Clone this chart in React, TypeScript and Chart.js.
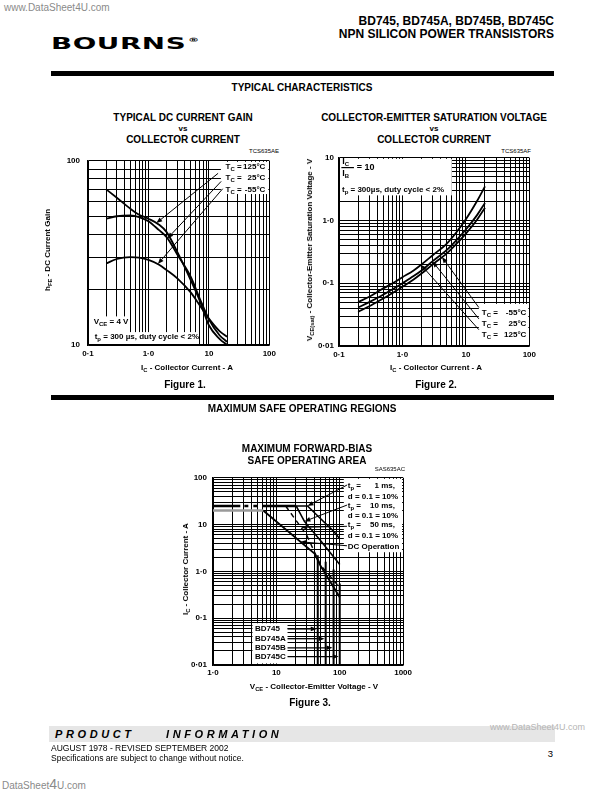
import React, { useEffect, useRef } from 'react';
import { Chart, registerables } from 'chart.js';

Chart.register(...registerables);

const F = '"Liberation Sans", Arial, Helvetica, sans-serif';

// ---------- Figure 1 : typical DC current gain vs collector current ----------
const fig1Current = [0.2, 0.3, 0.5, 0.7, 1, 1.5, 2, 3, 5, 7, 10, 15, 20];
const fig1Gain125 = [70, 63, 55, 51, 48.5, 45, 41, 32, 22.5, 17.5, 12.8, 10.8, 10.0];
const fig1Gain25 = [48.5, 50, 50.5, 49.5, 47, 42, 38.5, 31, 23.5, 18, 13.8, 11.3, 10.4];
const fig1GainM55 = [27.7, 29.3, 30, 29.8, 29, 27.3, 25.5, 23, 19.3, 16.5, 13.9, 11.9, 11.1];
const fig1TempLabels = ['125°C', '25°C', '-55°C'];
const fig1XTickValues = [0.1, 1, 10, 100];
const fig1XTickLabels = ['0·1', '1·0', '10', '100'];
const fig1YTickValues = [10, 100];
const fig1YTickLabels = ['10', '100'];

// ---------- Figure 2 : VCE(sat) vs collector current ----------
const fig2Current = [0.2, 0.3, 0.45, 0.7, 1, 1.5, 2, 3, 5, 7, 10, 15, 20];
const fig2Vsat125 = [0.05, 0.061, 0.078, 0.1, 0.125, 0.16, 0.2, 0.28, 0.43, 0.64, 1.05, 2.05, 3.5];
const fig2Vsat25 = [0.041, 0.05, 0.062, 0.08, 0.1, 0.13, 0.16, 0.225, 0.34, 0.48, 0.72, 1.22, 1.91];
const fig2VsatM55 = [0.035, 0.043, 0.054, 0.07, 0.088, 0.115, 0.143, 0.2, 0.3, 0.42, 0.62, 1.03, 1.6];
const fig2TempLabels = ['-55°C', '25°C', '125°C'];
const fig2XTickValues = [0.1, 1, 10, 100];
const fig2XTickLabels = ['0·1', '1·0', '10', '100'];
const fig2YTickValues = [0.01, 0.1, 1, 10];
const fig2YTickLabels = ['0·01', '0·1', '1·0', '10'];

// ---------- Figure 3 : maximum forward-bias safe operating area ----------
const fig3IcmV = [1, 2.7, 6.15, 20.5];
const fig3IcmA = [25, 25, 25, 25];
const fig3Tp1msV = [20.5, 31, 80, 100];
const fig3Tp1msA = [25, 25, 7.2, 5];
const fig3Tp10msV = [20.5, 27.7, 50, 100];
const fig3Tp10msA = [25, 11.7, 4.5, 1.4];
const fig3Tp50msV = [14, 30, 50, 100];
const fig3Tp50msA = [25, 6, 1.36, 0.45];
const fig3DcFlatV = [1, 6.2];
const fig3DcFlatA = [20, 20];
const fig3DcV = [6.2, 40, 50, 100];
const fig3DcA = [20, 2.4, 1.3, 0.28];
const fig3Devices = ['BD745', 'BD745A', 'BD745B', 'BD745C'];
const fig3VceoV = [45, 60, 80, 100];
const fig3VceoTopA = [2.2, 1.6, 1.1, 0.55];
const fig3XTickValues = [1, 10, 100, 1000];
const fig3XTickLabels = ['1·0', '10', '100', '1000'];
const fig3YTickValues = [0.01, 0.1, 1, 10, 100];
const fig3YTickLabels = ['0·01', '0·1', '1·0', '10', '100'];

// ---------- helpers ----------
function logGrid(min: number, max: number): number[] {
  const out: number[] = [];
  const e0 = Math.floor(Math.log10(min) + 1e-9);
  const e1 = Math.ceil(Math.log10(max) - 1e-9);
  for (let e = e0; e <= e1; e++) {
    for (let m = 1; m <= 9; m++) {
      const v = parseFloat((m * Math.pow(10, e)).toPrecision(6));
      if (v >= min * 0.9999 && v <= max * 1.0001) out.push(v);
    }
  }
  return out;
}

function logInterp(xs: number[], ys: number[], x: number): number {
  for (let i = 0; i < xs.length - 1; i++) {
    if (x >= xs[i] && x <= xs[i + 1]) {
      const t = (Math.log(x) - Math.log(xs[i])) / (Math.log(xs[i + 1]) - Math.log(xs[i]));
      return Math.exp(Math.log(ys[i]) + t * (Math.log(ys[i + 1]) - Math.log(ys[i])));
    }
  }
  return ys[ys.length - 1];
}

const pts = (xs: number[], ys: number[]) => xs.map((x, i) => ({ x, y: ys[i] }));

const curve = (xs: number[], ys: number[], extra: any = {}) => ({
  data: pts(xs, ys),
  showLine: true,
  pointRadius: 0,
  borderColor: '#000',
  borderWidth: 1.8,
  fill: false,
  cubicInterpolationMode: 'monotone',
  ...extra,
});

const straight = (xs: number[], ys: number[], extra: any = {}) => ({
  data: pts(xs, ys),
  showLine: true,
  pointRadius: 0,
  borderColor: '#000',
  borderWidth: 1.6,
  fill: false,
  tension: 0,
  ...extra,
});

const P = (c: any, x: number, y: number) => ({
  x: c.scales.x.getPixelForValue(x),
  y: c.scales.y.getPixelForValue(y),
});

function whiteBox(c: any, x0: number, x1: number, y0: number, y1: number) {
  const a = P(c, x0, y1);
  const b = P(c, x1, y0);
  const ca = c.chartArea;
  const l = Math.max(a.x, ca.left + 1);
  const t = Math.max(a.y, ca.top + 1);
  const r = Math.min(b.x, ca.right - 1);
  const bt = Math.min(b.y, ca.bottom - 1);
  const ctx = c.ctx;
  ctx.save();
  ctx.fillStyle = '#fff';
  ctx.fillRect(l, t, r - l, bt - t);
  ctx.restore();
}

type Part = [string, boolean?];
function rich(ctx: CanvasRenderingContext2D, x: number, y: number, parts: Part[], size = 8, align: 'left' | 'right' = 'left') {
  ctx.save();
  ctx.fillStyle = '#000';
  ctx.textBaseline = 'middle';
  ctx.textAlign = 'left';
  const sub = Math.round(size * 0.72);
  const w = parts.map(([s, isSub]) => {
    ctx.font = `bold ${isSub ? sub : size}px ${F}`;
    return ctx.measureText(s).width;
  });
  let cx = align === 'right' ? x - w.reduce((a, b) => a + b, 0) : x;
  parts.forEach(([s, isSub], i) => {
    ctx.font = `bold ${isSub ? sub : size}px ${F}`;
    ctx.fillText(s, cx, isSub ? y + size * 0.32 : y);
    cx += w[i];
  });
  ctx.restore();
}

function arrow(ctx: CanvasRenderingContext2D, x1: number, y1: number, x2: number, y2: number, lw = 1, head = 6, half = 2.2) {
  const a = Math.atan2(y2 - y1, x2 - x1);
  const c = Math.cos(a);
  const s = Math.sin(a);
  const bx = x2 - head * c;
  const by = y2 - head * s;
  ctx.save();
  ctx.strokeStyle = '#000';
  ctx.fillStyle = '#000';
  ctx.lineWidth = lw;
  ctx.beginPath();
  ctx.moveTo(x1, y1);
  ctx.lineTo(bx, by);
  ctx.stroke();
  ctx.beginPath();
  ctx.moveTo(x2, y2);
  ctx.lineTo(bx - half * s, by + half * c);
  ctx.lineTo(bx + half * s, by - half * c);
  ctx.closePath();
  ctx.fill();
  ctx.restore();
}

type Spec = {
  xMin: number; xMax: number; yMin: number; yMax: number;
  xTicks: number[]; xLabels: string[]; yTicks: number[]; yLabels: string[];
  yWidth: number; xHeight: number; padTop: number; padRight: number;
  xPad: number; yPad: number;
  datasets: any[];
  under?: (c: any) => void;
  over?: (c: any) => void;
};

function labelFor(values: number[], labels: string[]) {
  return (v: any) => {
    const n = Number(v);
    const i = values.findIndex((t) => Math.abs(t - n) / t < 1e-6);
    return i >= 0 ? labels[i] : '';
  };
}

function makeChart(canvas: HTMLCanvasElement, s: Spec) {
  const tickFont = { family: F, size: 8, weight: 'bold' as const };
  const plugin = {
    id: 'sheetNotes',
    beforeDatasetsDraw(c: any) { if (s.under) s.under(c); },
    afterDatasetsDraw(c: any) { if (s.over) s.over(c); },
  };
  return new Chart(canvas, {
    type: 'scatter',
    data: { datasets: s.datasets },
    options: {
      responsive: false,
      maintainAspectRatio: false,
      devicePixelRatio: 1,
      animation: false,
      events: [],
      layout: { padding: { top: s.padTop, right: s.padRight, left: 0, bottom: 0 } },
      plugins: { legend: { display: false }, tooltip: { enabled: false }, title: { display: false } },
      scales: {
        x: {
          type: 'logarithmic',
          min: s.xMin,
          max: s.xMax,
          afterBuildTicks: (ax: any) => { ax.ticks = logGrid(s.xMin, s.xMax).map((v) => ({ value: v })); },
          afterFit: (ax: any) => { ax.height = s.xHeight; },
          ticks: {
            autoSkip: false, maxRotation: 0, minRotation: 0, padding: s.xPad,
            color: '#000', font: tickFont, callback: labelFor(s.xTicks, s.xLabels),
          },
          grid: { color: '#000', lineWidth: 1, drawTicks: false },
          border: { color: '#000', width: 1.5 },
        },
        y: {
          type: 'logarithmic',
          min: s.yMin,
          max: s.yMax,
          afterBuildTicks: (ax: any) => { ax.ticks = logGrid(s.yMin, s.yMax).map((v) => ({ value: v })); },
          afterFit: (ax: any) => { ax.width = s.yWidth; },
          ticks: {
            autoSkip: false, padding: s.yPad,
            color: '#000', font: tickFont, callback: labelFor(s.yTicks, s.yLabels),
          },
          grid: { color: '#000', lineWidth: 1, drawTicks: false },
          border: { color: '#000', width: 1.5 },
        },
      },
    } as any,
    plugins: [plugin],
  });
}

// ---------- chart specs ----------
const spec1: Spec = {
  xMin: 0.1, xMax: 100, yMin: 10, yMax: 100,
  xTicks: fig1XTickValues, xLabels: fig1XTickLabels, yTicks: fig1YTickValues, yLabels: fig1YTickLabels,
  yWidth: 48, xHeight: 19, padTop: 7, padRight: 9, xPad: 4, yPad: 8,
  datasets: [curve(fig1Current, fig1Gain125), curve(fig1Current, fig1Gain25), curve(fig1Current, fig1GainM55)],
  under: (c) => {
    whiteBox(c, 15.8, 100, 66, 100);
    whiteBox(c, 0.1, 0.45, 10, 14.3);
    whiteBox(c, 0.1, 6.4, 10, 11.75);
  },
  over: (c) => {
    const ctx = c.ctx;
    const rows = [92.7, 80.5, 69.9];
    rows.forEach((hv, i) => {
      const p = P(c, 18.9, hv);
      rich(ctx, p.x, p.y, [['T'], ['C', true], [' =']]);
      const q = P(c, 86, hv);
      rich(ctx, q.x, q.y, [[fig1TempLabels[i]]], 8, 'right');
    });
    const arr: [number, number, number, number[]][] = [
      [14.2, 85.5, 1.35, fig1Gain125],
      [15.96, 77.3, 2.06, fig1Gain25],
      [16.9, 70.5, 1.43, fig1GainM55],
    ];
    arr.forEach(([sx, sy, tx, ys]) => {
      const a = P(c, sx, sy);
      const b = P(c, tx, logInterp(fig1Current, ys, tx));
      arrow(ctx, a.x, a.y, b.x, b.y, 1, 6, 2.3);
    });
    const v = P(c, 0.124, 13.4);
    rich(ctx, v.x, v.y, [['V'], ['CE', true], [' = 4 V']]);
    const t = P(c, 0.129, 11.1);
    rich(ctx, t.x, t.y, [['t'], ['p', true], [' = 300 µs, duty cycle < 2%']]);
  },
};

const spec2: Spec = {
  xMin: 0.1, xMax: 100, yMin: 0.01, yMax: 10,
  xTicks: fig2XTickValues, xLabels: fig2XTickLabels, yTicks: fig2YTickValues, yLabels: fig2YTickLabels,
  yWidth: 39, xHeight: 18, padTop: 6, padRight: 9, xPad: 4, yPad: 5,
  datasets: [curve(fig2Current, fig2Vsat125), curve(fig2Current, fig2Vsat25), curve(fig2Current, fig2VsatM55)],
  under: (c) => {
    whiteBox(c, 0.1, 6.0, 2.52, 10);
    whiteBox(c, 16, 100, 0.01, 0.047);
  },
  over: (c) => {
    const ctx = c.ctx;
    const n = P(c, 0.113, 8.6);
    rich(ctx, n.x, n.y, [['I'], ['C', true]], 9);
    const l0 = P(c, 0.109, 7.05);
    const l1 = P(c, 0.172, 7.05);
    ctx.save();
    ctx.fillStyle = '#000';
    ctx.fillRect(l0.x, Math.round(l0.y), l1.x - l0.x, 1.2);
    ctx.restore();
    const d = P(c, 0.113, 5.6);
    rich(ctx, d.x, d.y, [['I'], ['B', true]], 9);
    const eq = P(c, 0.19, 6.95);
    rich(ctx, eq.x, eq.y, [['= 10']], 9);
    const t = P(c, 0.1114, 3.08);
    rich(ctx, t.x, t.y, [['t'], ['p', true], [' = 300µs, duty cycle < 2%']]);
    const rows = [0.0343, 0.0226, 0.0152];
    rows.forEach((vv, i) => {
      const p = P(c, 17.8, vv);
      rich(ctx, p.x, p.y, [['T'], ['C', true], [' =']]);
      const q = P(c, 89.8, vv);
      rich(ctx, q.x, q.y, [[fig2TempLabels[i]]], 8, 'right');
    });
    const arr: [number, number, number, number[]][] = [
      [16, 0.0411, 4.2, fig2VsatM55],
      [16, 0.0271, 2.97, fig2Vsat25],
      [16, 0.0182, 1.96, fig2Vsat125],
    ];
    arr.forEach(([sx, sy, tx, ys]) => {
      const a = P(c, sx, sy);
      const b = P(c, tx, logInterp(fig2Current, ys, tx));
      arrow(ctx, a.x, a.y, b.x, b.y, 1, 6, 2.3);
    });
  },
};

const spec3: Spec = {
  xMin: 1, xMax: 1000, yMin: 0.01, yMax: 100,
  xTicks: fig3XTickValues, xLabels: fig3XTickLabels, yTicks: fig3YTickValues, yLabels: fig3YTickLabels,
  yWidth: 38, xHeight: 18, padTop: 6, padRight: 10, xPad: 3, yPad: 6,
  datasets: [
    straight(fig3DcFlatV, fig3DcFlatA, { borderColor: '#9a9a9a', borderWidth: 2.5 }),
    straight(fig3IcmV, fig3IcmA, {
      borderWidth: 2.6,
      segment: {
        borderDash: (ctx: any) => (ctx.p0DataIndex === 1 ? [4, 5] : undefined),
        borderDashOffset: (ctx: any) => (ctx.p0DataIndex === 1 ? 5 : 0),
      },
    }),
    straight(fig3Tp1msV, fig3Tp1msA, { borderWidth: 1.6 }),
    straight(fig3Tp10msV, fig3Tp10msA, { borderWidth: 1.6 }),
    straight(fig3Tp50msV, fig3Tp50msA, { borderWidth: 1.4, borderDash: [5, 4] }),
    straight(fig3DcV, fig3DcA, { borderWidth: 1.8 }),
    ...fig3VceoV.map((v, i) => straight([v, v], [0.01, fig3VceoTopA[i]], { borderWidth: 2 })),
  ],
  under: (c) => {
    whiteBox(c, 116, 1000, 2.57, 100);
    whiteBox(c, 4.2, 15, 0.0108, 0.078);
  },
  over: (c) => {
    const ctx = c.ctx;
    const ys = [65.9, 38.9, 24.9, 15.4, 10, 5.9, 3.37];
    const tpVals = ['1 ms,', '10 ms,', '50 ms,'];
    [0, 2, 4].forEach((row, k) => {
      const p = P(c, 134, ys[row]);
      rich(ctx, p.x, p.y, [['t'], ['p', true], [' =']]);
      const q = P(c, 745, ys[row]);
      rich(ctx, q.x, q.y, [[tpVals[k]]], 8, 'right');
      const d = P(c, 134, ys[row + 1]);
      rich(ctx, d.x, d.y, [['d = 0.1 = 10%']]);
    });
    const dc = P(c, 134, ys[6]);
    rich(ctx, dc.x, dc.y, [['DC Operation']]);
    const arr: [number, number, number, number[], number[]][] = [
      [130, 70, 31, fig3Tp1msV, fig3Tp1msA],
      [130, 26.1, 27.7, fig3Tp10msV, fig3Tp10msA],
      [130, 9.2, 24.6, fig3Tp50msV, fig3Tp50msA],
      [130, 3.53, 24, fig3DcV, fig3DcA],
    ];
    arr.forEach(([sx, sy, tx, xs, yv]) => {
      const a = P(c, sx, sy);
      const b = P(c, tx, logInterp(xs, yv, tx));
      arrow(ctx, a.x, a.y, b.x, b.y, 1, 6, 2.3);
    });
    const rowsI = [0.059, 0.0365, 0.0233, 0.0151];
    fig3Devices.forEach((name, i) => {
      const p = P(c, 4.6, rowsI[i]);
      rich(ctx, p.x, p.y, [[name]]);
      const a = P(c, 15, rowsI[i]);
      const b = P(c, fig3VceoV[i], rowsI[i]);
      arrow(ctx, a.x, a.y, b.x - 1, b.y, 1.3, 6, 2.3);
    });
  },
};

// ---------- HTML text ----------
function Txt(props: {
  x: number; y: number; children: any; size?: number; bold?: boolean; italic?: boolean;
  align?: 'left' | 'center' | 'right'; color?: string; spacing?: number; rotate?: boolean; family?: string;
}) {
  const { x, y, children, size = 10, bold = false, italic = false, align = 'center', color = '#000', spacing, rotate, family } = props;
  const tx = align === 'center' ? '-50%' : align === 'right' ? '-100%' : '0';
  return (
    <div
      style={{
        position: 'absolute', left: x, top: y,
        transform: `translate(${rotate ? '-50%' : tx},-50%)${rotate ? ' rotate(-90deg)' : ''}`,
        fontSize: size, fontWeight: bold ? 700 : 400, fontStyle: italic ? 'italic' : 'normal',
        whiteSpace: 'nowrap', lineHeight: 1, color, letterSpacing: spacing, fontFamily: family || F,
      }}
    >
      {children}
    </div>
  );
}

const Sub = ({ children }: { children: any }) => (
  <span style={{ fontSize: '0.72em', position: 'relative', top: '0.3em' }}>{children}</span>
);

const Rule = ({ y }: { y: number }) => (
  <div style={{ position: 'absolute', left: 51, top: y, width: 503, height: 4.5, background: '#000' }} />
);

export default function App() {
  const r1 = useRef<HTMLCanvasElement>(null);
  const r2 = useRef<HTMLCanvasElement>(null);
  const r3 = useRef<HTMLCanvasElement>(null);

  useEffect(() => {
    const charts = [
      makeChart(r1.current as HTMLCanvasElement, spec1),
      makeChart(r2.current as HTMLCanvasElement, spec2),
      makeChart(r3.current as HTMLCanvasElement, spec3),
    ];
    return () => charts.forEach((c) => c.destroy());
  }, []);

  const cv = (left: number, top: number) => ({ position: 'absolute' as const, left, top, width: 240, height: 216 });

  return (
    <div style={{ position: 'absolute', left: 0, top: 0, width: 595, height: 792, background: '#fff', overflow: 'hidden', fontFamily: F, color: '#000' }}>
      {/* header */}
      <Txt x={4} y={8} size={10} align="left" color="#8a8a8a">www.DataSheet4U.com</Txt>
      <Txt x={554} y={21} size={12} bold align="right">BD745, BD745A, BD745B, BD745C</Txt>
      <Txt x={554} y={34} size={12} bold align="right">NPN SILICON POWER TRANSISTORS</Txt>
      <div style={{ position: 'absolute', left: 51, top: 37, fontFamily: '"DejaVu Sans", sans-serif', fontWeight: 700, fontSize: 15, lineHeight: 1, transform: 'scaleX(1.85)', transformOrigin: 'left center', whiteSpace: 'nowrap', letterSpacing: 0.3 }}>
        BOURNS<span style={{ fontSize: 6, verticalAlign: 'top', marginLeft: 1 }}>®</span>
      </div>
      <Rule y={71} />
      <Txt x={302} y={88} size={10} bold>TYPICAL CHARACTERISTICS</Txt>

      {/* figure 1 */}
      <Txt x={183} y={118} size={10} bold>TYPICAL DC CURRENT GAIN</Txt>
      <Txt x={183} y={129} size={8} bold>vs</Txt>
      <Txt x={183} y={139.5} size={10} bold>COLLECTOR CURRENT</Txt>
      <Txt x={279} y={151} size={6} align="right">TCS635AE</Txt>
      <canvas ref={r1} width={240} height={216} style={cv(40, 148)} />
      <Txt x={48} y={250} size={8} bold rotate>h<Sub>FE</Sub> - DC Current Gain</Txt>
      <Txt x={187} y={368} size={8} bold>I<Sub>C</Sub> - Collector Current - A</Txt>
      <Txt x={185} y={385} size={10} bold>Figure 1.</Txt>

      {/* figure 2 */}
      <Txt x={434} y={118} size={10} bold>COLLECTOR-EMITTER SATURATION VOLTAGE</Txt>
      <Txt x={434} y={129} size={8} bold>vs</Txt>
      <Txt x={434} y={139.5} size={10} bold>COLLECTOR CURRENT</Txt>
      <Txt x={531} y={151} size={6} align="right">TCS635AF</Txt>
      <canvas ref={r2} width={240} height={216} style={cv(300, 148)} />
      <Txt x={310} y={250} size={8} bold rotate>V<Sub>CE(sat)</Sub> - Collector-Emitter Saturation Voltage - V</Txt>
      <Txt x={436} y={368} size={8} bold>I<Sub>C</Sub> - Collector Current - A</Txt>
      <Txt x={436} y={385} size={10} bold>Figure 2.</Txt>

      <Rule y={395} />
      <Txt x={302} y={409} size={10} bold>MAXIMUM SAFE OPERATING REGIONS</Txt>

      {/* figure 3 */}
      <Txt x={307} y={449} size={10} bold>MAXIMUM FORWARD-BIAS</Txt>
      <Txt x={307} y={460.5} size={10} bold>SAFE OPERATING AREA</Txt>
      <Txt x={405} y={468.5} size={6} align="right">SAS635AC</Txt>
      <canvas ref={r3} width={240} height={216} style={cv(175, 467)} />
      <Txt x={186} y={569} size={8} bold rotate>I<Sub>C</Sub> - Collector Current - A</Txt>
      <Txt x={314} y={687} size={8} bold>V<Sub>CE</Sub> - Collector-Emitter Voltage - V</Txt>
      <Txt x={310} y={703} size={10} bold>Figure 3.</Txt>

      {/* footer */}
      <div style={{ position: 'absolute', left: 49, top: 726, width: 506, height: 16, background: '#e6e6e6' }} />
      <Txt x={55} y={734} size={11} bold italic align="left" spacing={3.6}>PRODUCT</Txt>
      <Txt x={166} y={734} size={11} bold italic align="left" spacing={3.6}>INFORMATION</Txt>
      <Txt x={490} y={727} size={9} align="left" color="#b5b5b5">www.DataSheet4U.com</Txt>
      <Txt x={51} y={748} size={8.5} align="left">AUGUST 1978 - REVISED SEPTEMBER 2002</Txt>
      <Txt x={51} y={758} size={8.5} align="left">Specifications are subject to change without notice.</Txt>
      <Txt x={553} y={754} size={9.5} align="right">3</Txt>
      <Txt x={2} y={784} size={10} align="left" color="#8a8a8a">DataSheet<span style={{ fontSize: 14 }}>4</span>U.com</Txt>
    </div>
  );
}
